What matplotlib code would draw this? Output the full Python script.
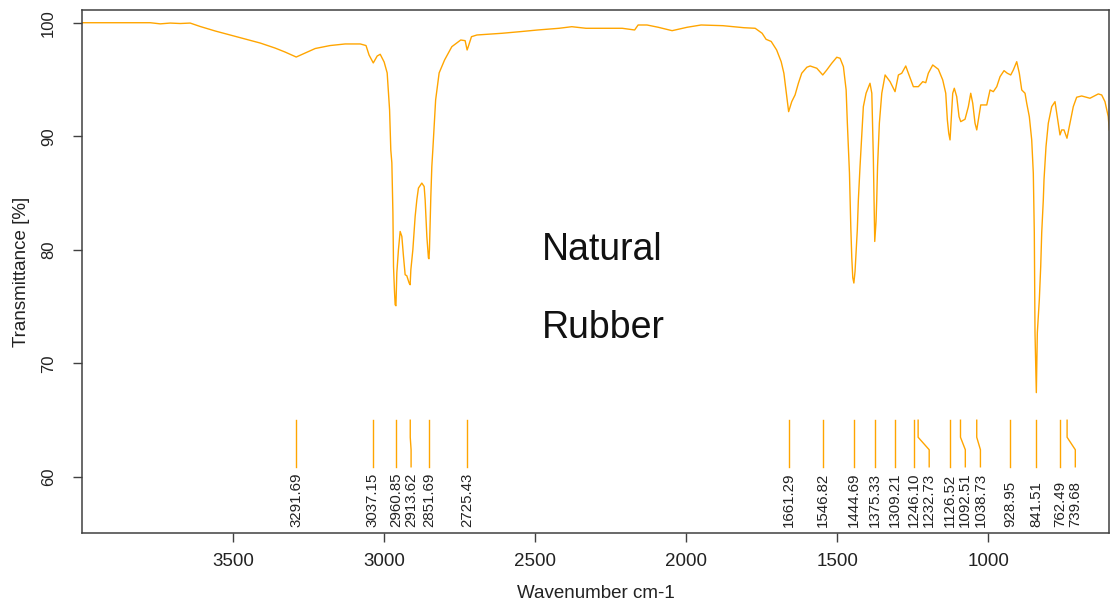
import matplotlib
matplotlib.use("Agg")
import matplotlib.pyplot as plt

# ---- spectrum values ----
wavenumber = [
    3999, 3907, 3840, 3774, 3741, 3708, 3675, 3642, 3609, 3559, 3510, 3460, 3410, 3361, 3328,
    3291, 3261, 3228, 3179, 3129, 3079, 3060, 3050, 3036, 3023, 3013, 3000, 2990, 2982, 2978,
    2974.5, 2971, 2969, 2966, 2963.6, 2961, 2958, 2952.7, 2947, 2941.4, 2936, 2930.5, 2925,
    2917.3, 2914, 2911.6, 2905, 2897.4, 2891.8, 2886.5, 2875.3, 2867.6, 2864.3, 2858.7, 2853.4,
    2851.7, 2850.1, 2845.5, 2842.2, 2838.9, 2829.6, 2818, 2800, 2776, 2746.5, 2732, 2725.4, 2722,
    2711, 2693, 2610, 2551, 2492, 2421, 2379, 2332, 2212, 2171, 2159.5, 2130, 2093, 2047, 1997,
    1951, 1879, 1809, 1772, 1749, 1736, 1719, 1701, 1686, 1677, 1671, 1666.5, 1661.3, 1651, 1640,
    1629, 1618, 1601, 1590, 1568, 1548.4, 1535, 1518.6, 1502, 1491, 1480, 1471, 1467, 1460, 1455.6,
    1452.3, 1449, 1445.4, 1441.5, 1438.2, 1434, 1430.5, 1425, 1414, 1405, 1392, 1386, 1381, 1378.6,
    1376.3, 1372, 1369.7, 1367, 1361, 1353, 1342, 1325.6, 1309.1, 1298, 1287, 1273.7, 1265, 1248.5,
    1232, 1217.4, 1207.5, 1199, 1184.4, 1165.8, 1151.3, 1141.3, 1136, 1131.4, 1127.1, 1122.8, 1118.2,
    1113, 1105, 1097.3, 1091.7, 1077.5, 1066.5, 1058.6, 1052, 1044.4, 1038.7, 1033.5, 1025.5, 1017,
    1005.6, 994.7, 983.8, 972.5, 961.6, 948.4, 937.5, 926.2, 917.6, 906.4, 897.8, 889.8, 878.9,
    873.3, 864.7, 856.8, 851.5, 848.2, 845.9, 842.6, 841.5, 838.2, 831.6, 827, 823.7, 818.4, 816.1,
    809.5, 801.9, 790.6, 779.7, 772.1, 763.2, 757.6, 750, 740.1, 730.1, 719.2, 708, 691.4, 664,
    636.4, 625.2, 614.3, 603.4, 600.1,
]
transmittance = [
    100.0, 100.0, 100.0, 100.0, 99.9, 99.97, 99.93, 99.97, 99.67, 99.27, 98.92, 98.57, 98.21, 97.77, 97.42,
    96.98, 97.34, 97.73, 97.99, 98.13, 98.13, 97.99, 97.16, 96.46, 97.07, 97.22, 96.54, 95.58, 92.32, 88.80,
    87.66, 83.26, 78.54, 76.49, 75.17, 75.08, 77.99, 80.01, 81.62, 81.18, 79.42, 77.81, 77.72,
    77.08, 76.93, 78.25, 80.01, 82.94, 84.41, 85.44, 85.88, 85.58, 84.41, 81.18, 79.28,
    79.22, 80.01, 84.70, 87.34, 88.80, 93.20, 95.58, 96.72, 97.89, 98.48, 98.42, 97.60, 97.86,
    98.77, 98.92, 99.07, 99.21, 99.36, 99.51, 99.65, 99.51, 99.51, 99.36, 99.80, 99.80, 99.60, 99.30, 99.60,
    99.80, 99.74, 99.56, 99.51, 99.07, 98.54, 98.35, 97.60, 96.57, 95.55, 94.23, 93.20, 92.17, 93.05, 93.64,
    94.67, 95.55, 96.08, 96.19, 95.99, 95.40, 95.84, 96.43, 96.96, 96.87, 96.13, 94.08, 91.18, 86.78, 82.06,
    79.31, 77.55, 77.08, 78.10, 79.75, 81.77, 84.41, 87.34, 92.61, 93.79, 94.67, 93.79, 88.21, 84.41,
    80.74, 82.50, 84.41, 87.34, 91.15, 93.79, 95.40, 94.81, 93.93, 95.40, 95.55, 96.19, 95.55, 94.37,
    94.37, 94.81, 94.72, 95.55, 96.28, 95.90, 94.96, 93.79, 91.44, 90.27, 89.68, 91.73, 93.79,
    94.23, 93.49, 91.73, 91.29, 91.50, 92.61, 93.79, 92.91, 91.15, 90.56, 91.44, 92.76, 92.76,
    92.76, 94.08, 93.93, 94.37, 95.25, 95.78, 95.55, 95.40, 95.84, 96.57, 95.55, 94.08, 93.79,
    92.91, 91.73, 89.68, 86.75, 81.50, 72.71, 68.57, 67.43, 72.71, 75.61, 78.54, 81.50, 84.41, 86.17,
    89.09, 91.15, 92.61, 93.05, 91.73, 90.12, 90.56, 90.56, 89.83, 91.15, 92.61, 93.44, 93.55, 93.35,
    93.73, 93.64, 93.05, 91.73, 90.56,
]

peak_positions = [3291.69, 3037.15, 2960.85, 2913.62, 2851.69, 2725.43, 1661.29, 1546.82,
                  1444.69, 1375.33, 1309.21, 1246.10, 1232.73, 1126.52, 1092.51, 1038.73,
                  928.95, 841.51, 762.49, 739.68]
peak_labels = ["3291.69", "3037.15", "2960.85", "2913.62", "2851.69", "2725.43", "1661.29",
               "1546.82", "1444.69", "1375.33", "1309.21", "1246.10", "1232.73", "1126.52",
               "1092.51", "1038.73", "928.95", "841.51", "762.49", "739.68"]

x_ticks = [3500, 3000, 2500, 2000, 1500, 1000]
y_ticks = [60, 70, 80, 90, 100]
sample_lines = ["Natural", "Rubber"]

plt.rcParams['font.family'] = ['Liberation Sans', 'DejaVu Sans']

W, H = 1113, 615
fig = plt.figure(figsize=(W / 100, H / 100), dpi=100)
ax = fig.add_axes([82 / W, 1 - 533 / H, (1109.3 - 82) / W, (533 - 10) / H])

orange = '#FFA500'
ax.plot(wavenumber, transmittance, color=orange, lw=1.0)
ax.set_xlim(4000, 600)
ax.set_ylim(55.07, 101.12)

# spread peak labels so they do not overlap
min_gap = 50
label_pos = []
for p in peak_positions:
    if label_pos and label_pos[-1] - p < min_gap:
        label_pos.append(label_pos[-1] - min_gap)
    else:
        label_pos.append(p)

for p, lp, lab in zip(peak_positions, label_pos, peak_labels):
    if abs(lp - p) < 1e-9:
        ax.plot([p, p], [65.0, 60.9], color=orange, lw=1.0)
    else:
        ax.plot([p, p, lp, lp], [65.0, 63.5, 62.4, 60.9], color=orange, lw=1.0)
    ax.text(lp, 55.6, lab, rotation=90, ha='center', va='bottom', fontsize=10.8, color='#222222')

ax.text(2478, 79.13, sample_lines[0], fontsize=27, ha='left', va='baseline', color='#111111')
ax.text(2478, 72.24, sample_lines[1], fontsize=27, ha='left', va='baseline', color='#111111')

ax.set_xticks(x_ticks)
ax.set_xticklabels([str(t) for t in x_ticks], fontsize=13.5, color='#222222')
ax.set_yticks(y_ticks)
ax.set_yticklabels([str(t) for t in y_ticks], fontsize=12, rotation=90, va='center', color='#222222')
ax.tick_params(axis='both', direction='out', length=6.7, width=1.0, color='#404040')
ax.tick_params(axis='x', pad=8)
ax.tick_params(axis='y', pad=12)
for s in ax.spines.values():
    s.set_color('#404040')
    s.set_linewidth(1.1)

fig.text(22 / W, 1 - 271.5 / H, "Transmittance [%]", rotation=90, ha='center', va='center',
         fontsize=13.5, color='#222222')
fig.text(595.7 / W, 1 - 594 / H, "Wavenumber cm-1", ha='center', va='center',
         fontsize=13.5, color='#222222')

fig.savefig("out.png", dpi=100)
